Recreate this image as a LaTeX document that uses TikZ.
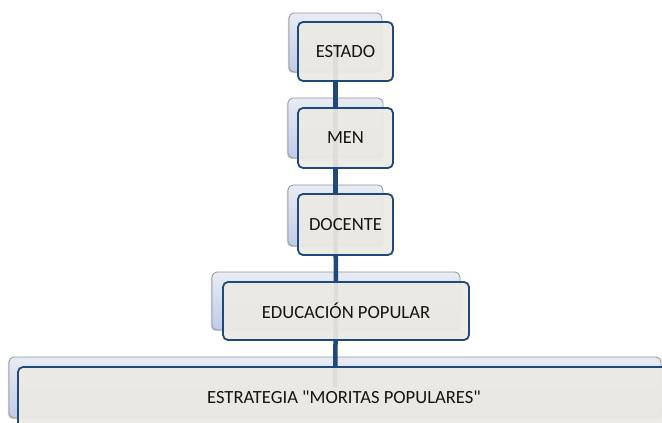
\documentclass[tikz,border=0pt]{standalone}
\usepackage{fontspec}
\setmainfont{Carlito}[Ligatures=TeXOff]
\usetikzlibrary{shadows}
\definecolor{connblue}{RGB}{31,73,125}
\definecolor{frontfill}{RGB}{236,234,227}
\definecolor{backtop}{RGB}{233,236,243}
\definecolor{backbot}{RGB}{192,203,232}
\definecolor{backedge}{RGB}{145,148,155}
\definecolor{txt}{RGB}{20,20,20}
\tikzset{
  backbox/.style={draw=backedge, line width=0.8pt, rounded corners=5pt,
    top color=backtop, bottom color=backbot, inner sep=0pt,
    drop shadow={shadow xshift=-1.2pt, shadow yshift=-1.2pt, opacity=0.35}},
  frontbox/.style={draw=connblue, line width=1.8pt, rounded corners=5pt,
    fill=frontfill, fill opacity=0.93, text opacity=1, inner sep=0pt,
    text=txt, font=\fontsize{18.6}{21}\selectfont},
  conn/.style={draw=connblue, line width=4.5pt}
}
\begin{document}
\begin{tikzpicture}[x=1pt,y=-1pt]
\useasboundingbox (0,0) rectangle (662,423);
\clip (0,0) rectangle (662,423);
% back boxes
\node[backbox, minimum width=93pt, minimum height=59pt] (b1) at (335.5,42.5) {};
\node[backbox, minimum width=95pt, minimum height=60pt] (b2) at (335.5,128) {};
\node[backbox, minimum width=95pt, minimum height=61pt] (b3) at (335.5,215.5) {};
\node[backbox, minimum width=248pt, minimum height=58pt] (b4) at (336,301) {};
\node[backbox, minimum width=652pt, minimum height=61pt] (b5) at (335,387.5) {};
% connectors
\draw[conn] (b1.center) -- (b2.center);
\draw[conn] (b2.center) -- (b3.center);
\draw[conn] (b3.center) -- (b4.center);
\draw[conn] (b4.center) -- (b5.center);
% front boxes
\node[frontbox, minimum width=95pt, minimum height=59pt] (f1) at (345.5,51.5) {ESTADO};
\node[frontbox, minimum width=95pt, minimum height=60pt] (f2) at (345.5,138) {MEN};
\node[frontbox, minimum width=95pt, minimum height=61pt] (f3) at (345.5,224.5) {DOCENTE};
\node[frontbox, minimum width=246pt, minimum height=58pt] (f4) at (346,311) {EDUCACIÓN POPULAR};
\node[frontbox, minimum width=652pt, minimum height=61pt] (f5) at (344,397.5) {ESTRATEGIA "MORITAS POPULARES"};
\end{tikzpicture}
\end{document}
